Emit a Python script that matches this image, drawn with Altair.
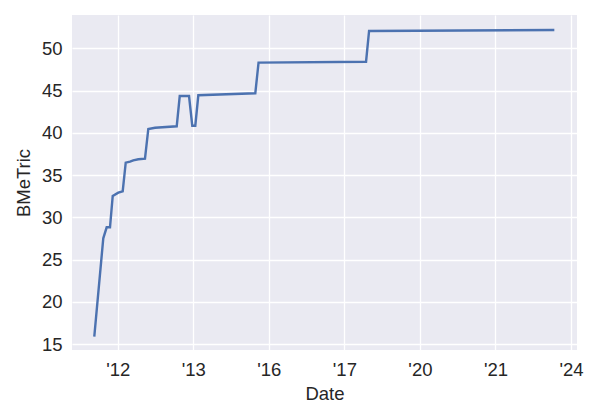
import altair as alt
import pandas as pd

# x position in units of tick index (tick 1 = '12, tick 7 = '24)
x_pos = [0.690, 0.809, 0.854, 0.898, 0.934, 1.008, 1.066, 1.106, 1.163, 1.206,
         1.273, 1.361, 1.405, 1.494, 1.781, 1.821, 1.944, 1.987, 2.027, 2.067,
         2.821, 2.864, 4.287, 4.327, 6.779]
bmetric = [15.87, 27.51, 28.81, 28.81, 32.52, 32.91, 33.07, 36.46, 36.58, 36.74,
           36.86, 36.93, 40.45, 40.60, 40.77, 44.35, 44.35, 40.84, 40.84, 44.44,
           44.67, 48.30, 48.41, 52.05, 52.17]

tick_positions = [1, 2, 3, 4, 5, 6, 7]
tick_labels = ["'12", "'13", "'16", "'17", "'20", "'21", "'24"]
y_ticks = [15, 20, 25, 30, 35, 40, 45, 50]

df = pd.DataFrame({"x": x_pos, "y": bmetric})

label_expr = " : ".join(
    f"datum.value == {p} ? \"{l}\"" for p, l in zip(tick_positions, tick_labels)
) + " : ''"

font = "Liberation Sans"
fs = 18.5

chart = alt.Chart(df).mark_line(color="#4C72B0", strokeWidth=2.4).encode(
    x=alt.X("x:Q", title="Date",
            scale=alt.Scale(domain=[0.395, 7.079], nice=False, zero=False),
            axis=alt.Axis(values=tick_positions, labelExpr=label_expr,
                          grid=True, gridColor="white", gridWidth=1.3,
                          domain=False, ticks=False, labelPadding=10,
                          labelFontSize=fs, titleFontSize=fs, titlePadding=6,
                          labelColor="#262626", titleColor="#262626",
                          labelFont=font, titleFont=font, titleFontWeight="normal")),
    y=alt.Y("y:Q", title="BMeTric",
            scale=alt.Scale(domain=[14.29, 53.94], nice=False, zero=False),
            axis=alt.Axis(values=y_ticks, grid=True, gridColor="white", gridWidth=1.3,
                          domain=False, ticks=False, labelPadding=10,
                          labelFontSize=fs, titleFontSize=fs, titlePadding=8,
                          labelColor="#262626", titleColor="#262626",
                          labelFont=font, titleFont=font, titleFontWeight="normal")),
).properties(
    width=505, height=335,
    autosize=alt.AutoSizeParams(type="none"),
    padding={"left": 64, "top": 7, "right": 10, "bottom": 60},
).configure_view(fill="#EAEAF2", stroke=None)

chart.save("out.html", embed_options={"renderer": "svg", "actions": False})
